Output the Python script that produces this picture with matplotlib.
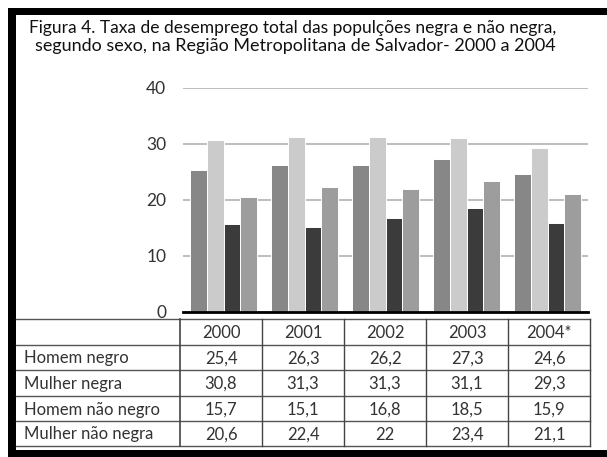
import matplotlib
matplotlib.use("Agg")
import matplotlib.pyplot as plt
import numpy as np

# dados da tabela
anos = ["2000", "2001", "2002", "2003", "2004*"]
series = ["Homem negro", "Mulher negra", "Homem não negro", "Mulher não negra"]
homem_negro = [25.4, 26.3, 26.2, 27.3, 24.6]
mulher_negra = [30.8, 31.3, 31.3, 31.1, 29.3]
homem_nao_negro = [15.7, 15.1, 16.8, 18.5, 15.9]
mulher_nao_negra = [20.6, 22.4, 22.0, 23.4, 21.1]
valores = [homem_negro, mulher_negra, homem_nao_negro, mulher_nao_negra]
cores = ["#878787", "#cbcbcb", "#3b3b3b", "#9d9d9d"]
yticks = [0, 10, 20, 30, 40]

W, H = 607, 457
plt.rcParams['font.family'] = ['Lato', 'DejaVu Sans']
fig = plt.figure(figsize=(W / 100, H / 100), dpi=100)
r = fig.canvas.get_renderer()


def ajusta(t, alvo):
    # ajusta o tamanho da fonte para a largura alvo em pixels
    fs = t.get_fontsize()
    w = t.get_window_extent(r).width
    t.set_fontsize(fs * alvo / w)
    return fs * alvo / w


# eixo do grafico (coordenadas em pixels -> fracao)
x0, x1, y0, y1 = 183, 588, 312, 88
ax = fig.add_axes([x0 / W, 1 - y0 / H, (x1 - x0) / W, (y0 - y1) / H])
x = np.arange(len(anos))
bw = 0.204
for i, (vals, c) in enumerate(zip(valores, cores)):
    ax.bar(x + (i - 1.5) * bw, vals, bw, color=c, edgecolor="white", linewidth=0.7, zorder=3)
ax.set_xlim(-0.5, 4.5)
ax.set_ylim(0, 40)
ax.set_yticks(yticks)
ax.set_yticklabels([str(t) for t in yticks], fontsize=12.5, color="#333333")
ax.tick_params(axis="y", length=0, pad=12)
ax.set_xticks([])
ax.grid(axis="y", color="#ababab", linewidth=1.1, zorder=0)
for s in ["top", "right", "left"]:
    ax.spines[s].set_visible(False)
ax.spines["bottom"].set_linewidth(2)
ax.spines["bottom"].set_color("black")
ax.spines["bottom"].set_zorder(4)

# camada em pixels para moldura, titulo e tabela
ov = fig.add_axes([0, 0, 1, 1], zorder=-1)
ov.set_xlim(0, W)
ov.set_ylim(H, 0)
ov.axis("off")

# moldura preta
ov.fill_between([8, W], 8, 15, color="black", lw=0)
ov.fill_between([8, 16], 8, H, color="black", lw=0)
ov.fill_between([8, W], 450, H, color="black", lw=0)

# titulo
t1 = ov.text(29, 33, "Figura 4. Taxa de desemprego total das populções negra e não negra,",
             fontsize=10, color="#111111", va="baseline")
t2 = ov.text(35, 51, "segundo sexo, na Região Metropolitana de Salvador- 2000 a 2004",
             fontsize=10, color="#111111", va="baseline")
ajusta(t1, 528)
ajusta(t2, 520)

# tabela
cols = [16, 180, 262, 344, 426, 508, 590]
rows = [319, 345, 370, 396, 421, 446]
for yy in rows:
    ov.plot([16, 590], [yy, yy], color="#555555", lw=1)
for xx in cols[1:]:
    ov.plot([xx, xx], [319, 446], color="#444444", lw=1.2 if xx == 180 else 1)

fs = 12
for j, ano in enumerate(anos):
    ov.text((cols[j + 1] + cols[j + 2]) / 2, (rows[0] + rows[1]) / 2 + 1, ano,
            ha="center", va="center", fontsize=fs, color="#333333")
for i, nome in enumerate(series):
    yc = (rows[i + 1] + rows[i + 2]) / 2 + 1
    ov.text(24, yc, nome, ha="left", va="center", fontsize=fs, color="#333333")
    for j, v in enumerate(valores[i]):
        txt = f"{v:g}".replace(".", ",")
        ov.text((cols[j + 1] + cols[j + 2]) / 2, yc, txt,
                ha="center", va="center", fontsize=fs, color="#333333")

fig.savefig("out.png", dpi=100)
